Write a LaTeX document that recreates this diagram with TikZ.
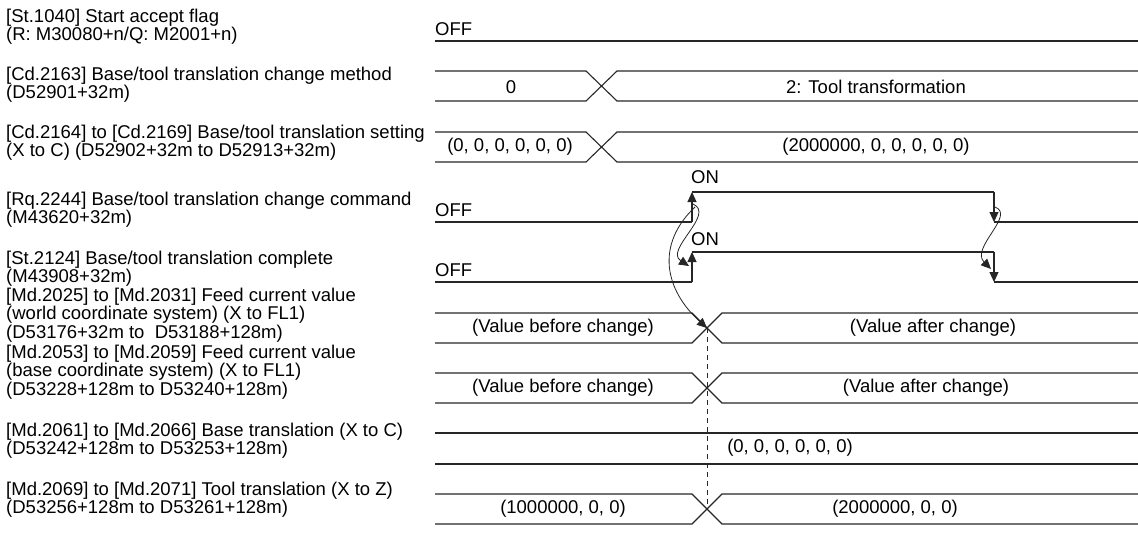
\documentclass[tikz,border=0pt]{standalone}
\usepackage{fontspec}
\setmainfont{Liberation Sans}
\usetikzlibrary{arrows.meta,calc}

\begin{document}
\begin{tikzpicture}[x=1pt,y=-1pt,font=\fontsize{18.5}{17}\selectfont,
  sig/.style={line width=1.1pt,black!85},
  lbl/.style={anchor=north west,align=left,inner sep=0pt},
  lbltight/.style={lbl,font=\fontsize{18.5}{12}\selectfont},
  val/.style={inner sep=0pt},
  edge/.style={sig,-{Triangle[length=10pt,width=9pt]}},
  link/.style={line width=0.8pt,black!85,-{Triangle[length=10pt,width=9pt]}}]
\useasboundingbox (0,0) rectangle (1138,533);
% signal names
\node[lbl] (n1) at (6,9) {[St.1040] Start accept flag\\(R: M30080+n/Q: M2001+n)};
\node[lbl] (n2) at (6,67) {[Cd.2163] Base/tool translation change method\\(D52901+32m)};
\node[lbl] (n3) at (6,125) {[Cd.2164] to [Cd.2169] Base/tool translation setting\\(X to C) (D52902+32m to D52913+32m)};
\node[lbl] (n4) at (6,192) {[Rq.2244] Base/tool translation change command\\(M43620+32m)};
\node[lbl] (n5) at (6,251) {[St.2124] Base/tool translation complete\\(M43908+32m)};
\node[lbltight] (n6) at (6,288) {[Md.2025] to [Md.2031] Feed current value\\(world coordinate system) (X to FL1)\\(D53176+32m to \ D53188+128m)};
\node[lbltight] (n7) at (6,345) {[Md.2053] to [Md.2059] Feed current value\\(base coordinate system) (X to FL1)\\(D53228+128m to D53240+128m)};
\node[lbl] (n8) at (6,423) {[Md.2061] to [Md.2066] Base translation (X to C)\\(D53242+128m to D53253+128m)};
\node[lbl] (n9) at (6,482) {[Md.2069] to [Md.2071] Tool translation (X to Z)\\(D53256+128m to D53261+128m)};

% start accept flag
\draw[sig] (435,41)--(1138,41);
\node[val,anchor=west] (off1) at (435,29) {OFF};

% buses with a change
\foreach \yt/\yb/\xa/\xb in {71/101/586/617,132/162/586/617,313/343/692/722,373/403/692/722,494/524/692/722}{
  \draw[sig] (435,\yt)--(\xa,\yt)--(\xb,\yb)--(1138,\yb) (435,\yb)--(\xa,\yb)--(\xb,\yt)--(1138,\yt);}
\draw[sig] (435,433)--(1138,433) (435,464)--(1138,464);

\node[val] (v2a) at (511,87) {0};
\node[val] (v2b) at (876,87) {2: Tool transformation};
\node[val] (v3a) at (510,147) {(0, 0, 0, 0, 0, 0)};
\node[val] (v3b) at (876,147) {(2000000, 0, 0, 0, 0, 0)};
\node[val] (v6a) at (563,328) {(Value before change)};
\node[val] (v6b) at (933,328) {(Value after change)};
\node[val] (v7a) at (563,388) {(Value before change)};
\node[val] (v7b) at (926,388) {(Value after change)};
\node[val] (v8) at (790,448) {(0, 0, 0, 0, 0, 0)};
\node[val] (v9a) at (563,509) {(1000000, 0, 0)};
\node[val] (v9b) at (895,509) {(2000000, 0, 0)};

% command and complete
\coordinate (rqup) at (692,192);
\coordinate (rqdn) at (994,222);
\coordinate (stup) at (692,252);
\coordinate (stdn) at (994,282);
\coordinate (chg) at (707,328);
\draw[sig] (435,222)--(692,222);
\draw[edge] (692,222)--(rqup);
\draw[sig] (rqup)--(994,192);
\draw[edge] (994,192)--(rqdn);
\draw[sig] (rqdn)--(1138,222);
\draw[sig] (435,282)--(692,282);
\draw[edge] (692,282)--(stup);
\draw[sig] (stup)--(994,252);
\draw[edge] (994,252)--(stdn);
\draw[sig] (stdn)--(1138,282);
\node[val,anchor=west] (off4) at (435,210) {OFF};
\node[val] (on4) at (705,177) {ON};
\node[val,anchor=west] (off5) at (435,270) {OFF};
\node[val] (on5) at (705,239) {ON};

% timing links
\draw[link] ($(rqup)+(1,12)$) .. controls (716,214) and (664,250) .. (689,266);
\draw[link] ($(rqup)+(3,15)$) .. controls (655,245) and (665,290) .. (chg);
\draw[link] ($(rqdn)+(1,-15)$) .. controls (1016,215) and (970,248) .. (991,269);
\draw[line width=0.8pt,black!85,dash pattern=on 5pt off 4pt] (chg)--(707,509);
\end{tikzpicture}
\end{document}
